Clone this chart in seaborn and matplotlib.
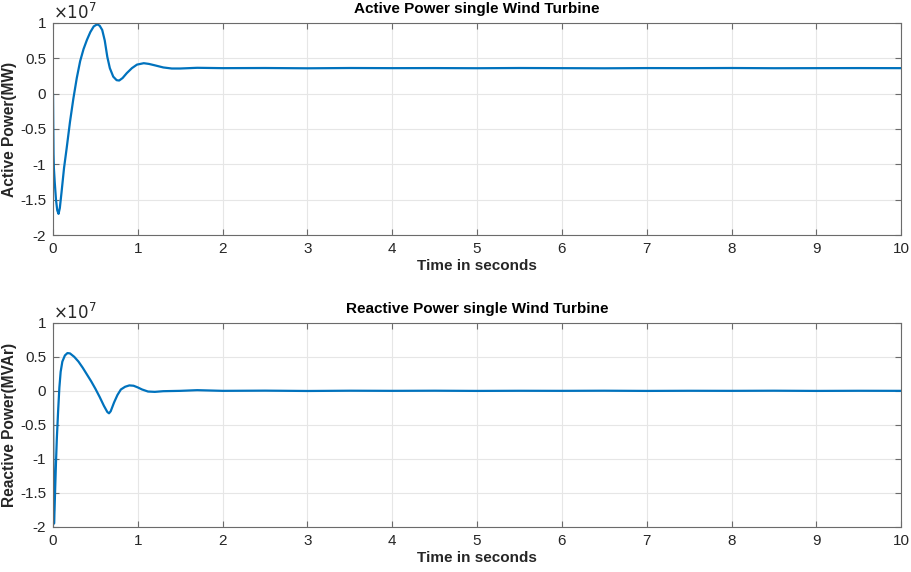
import matplotlib
matplotlib.use("Agg")
import matplotlib.pyplot as plt
import seaborn as sns
import pandas as pd
from matplotlib.ticker import FuncFormatter

# Active power of a single wind turbine (time in s, power in units of 1e7)
t_active = [0.0, 0.003, 0.006, 0.01, 0.02, 0.035, 0.05, 0.065, 0.08, 0.1, 0.13, 0.16,
            0.2, 0.24, 0.28, 0.32, 0.36, 0.40, 0.44, 0.48, 0.52, 0.55, 0.58, 0.61,
            0.64, 0.67, 0.71, 0.75, 0.78, 0.82, 0.87, 0.93, 0.99, 1.07, 1.13, 1.2,
            1.3, 1.4, 1.5, 1.7, 2.0, 2.5, 3.0, 3.5, 4.0, 4.5, 5.0, 5.5, 6.0, 6.5,
            7.0, 7.5, 8.0, 8.5, 9.0, 9.5, 10.0]
p_active = [0.0, -0.45, -0.85, -1.05, -1.25, -1.5, -1.65, -1.7, -1.62, -1.4, -1.05, -0.78,
            -0.4, -0.07, 0.22, 0.46, 0.63, 0.76, 0.87, 0.95, 0.98, 0.96, 0.9, 0.75,
            0.52, 0.36, 0.24, 0.19, 0.185, 0.22, 0.29, 0.36, 0.41, 0.43, 0.42, 0.40,
            0.37, 0.355, 0.355, 0.365, 0.36, 0.362, 0.358, 0.362, 0.36, 0.361, 0.359,
            0.362, 0.36, 0.358, 0.361, 0.36, 0.362, 0.359, 0.36, 0.361, 0.36]

# Reactive power of a single wind turbine (time in s, power in units of 1e7)
t_reactive = [0.0, 0.004, 0.008, 0.012, 0.018, 0.025, 0.035, 0.045, 0.06, 0.075, 0.09,
              0.11, 0.14, 0.17, 0.2, 0.25, 0.3, 0.35, 0.4, 0.45, 0.5, 0.55, 0.6, 0.64,
              0.66, 0.68, 0.72, 0.76, 0.8, 0.85, 0.9, 0.95, 1.0, 1.05, 1.12, 1.2, 1.3,
              1.5, 1.7, 2.0, 2.5, 3.0, 3.5, 4.0, 4.5, 5.0, 5.5, 6.0, 6.5, 7.0, 7.5,
              8.0, 8.5, 9.0, 9.5, 10.0]
p_reactive = [0.0, -0.9, -1.6, -1.95, -1.75, -1.45, -1.05, -0.7, -0.3, 0.05, 0.28,
              0.43, 0.52, 0.555, 0.55, 0.5, 0.43, 0.34, 0.24, 0.14, 0.03, -0.09, -0.22,
              -0.31, -0.33, -0.3, -0.17, -0.06, 0.02, 0.06, 0.08, 0.075, 0.05, 0.02,
              -0.01, -0.015, -0.005, 0.0, 0.01, 0.0, 0.003, -0.002, 0.002, 0.0, 0.002,
              -0.001, 0.001, 0.0, 0.002, -0.001, 0.001, 0.0, 0.002, -0.001, 0.001, 0.0]

x_ticks = [0, 1, 2, 3, 4, 5, 6, 7, 8, 9, 10]
y_ticks = [1, 0.5, 0, -0.5, -1, -1.5, -2]
scale = 1e7

sns.set_style("white")
plt.rcParams["font.family"] = ["Liberation Sans", "DejaVu Sans"]
plt.rcParams["axes.unicode_minus"] = False

LINE = "#0072BD"
AXC = "#6b6b6b"
TXT = "#262626"

fig = plt.figure(figsize=(9.11, 5.72), dpi=100)
ax1 = fig.add_axes([0.0582, 0.589, 0.931, 0.371])
ax2 = fig.add_axes([0.0582, 0.0787, 0.931, 0.357])

panels = [
    (ax1, t_active, p_active, "Active Power single Wind Turbine", "Active Power(MW)"),
    (ax2, t_reactive, p_reactive, "Reactive Power single Wind Turbine", "Reactive Power(MVAr)"),
]

for ax, t, p, title, ylabel in panels:
    df = pd.DataFrame({"t": t, "p": [v * scale for v in p]})
    sns.lineplot(data=df, x="t", y="p", ax=ax, color=LINE, linewidth=1.6,
                 estimator=None, sort=False)
    ax.set_xlim(0, 10)
    ax.set_ylim(-2 * scale, 1 * scale)
    ax.set_xticks(x_ticks)
    ax.set_yticks([v * scale for v in y_ticks])
    ax.yaxis.set_major_formatter(FuncFormatter(lambda v, pos: f"{v / scale:g}"))
    ax.grid(True, color="#e6e6e6", linewidth=0.8)
    ax.set_axisbelow(True)
    for s in ax.spines.values():
        s.set_color(AXC)
        s.set_linewidth(0.8)
    ax.tick_params(direction="in", length=4, width=0.8, color=AXC,
                   labelsize=11, labelcolor=TXT, top=True, right=True,
                   bottom=True, left=True, pad=5)
    ax.set_title(title, fontsize=11, fontweight="bold", color="black", pad=7)
    ax.set_xlabel("Time in seconds", fontsize=11, fontweight="bold", color=TXT, labelpad=2)
    ax.set_ylabel(ylabel, fontsize=11.2, fontweight="bold", color=TXT)
    ax.yaxis.set_label_coords(-0.043, 0.5)
    ax.text(0.0, 1.005, r"$\times 10^{7}$", transform=ax.transAxes,
            ha="left", va="bottom", fontsize=12, color=TXT)

fig.savefig("out.png", dpi=100)
